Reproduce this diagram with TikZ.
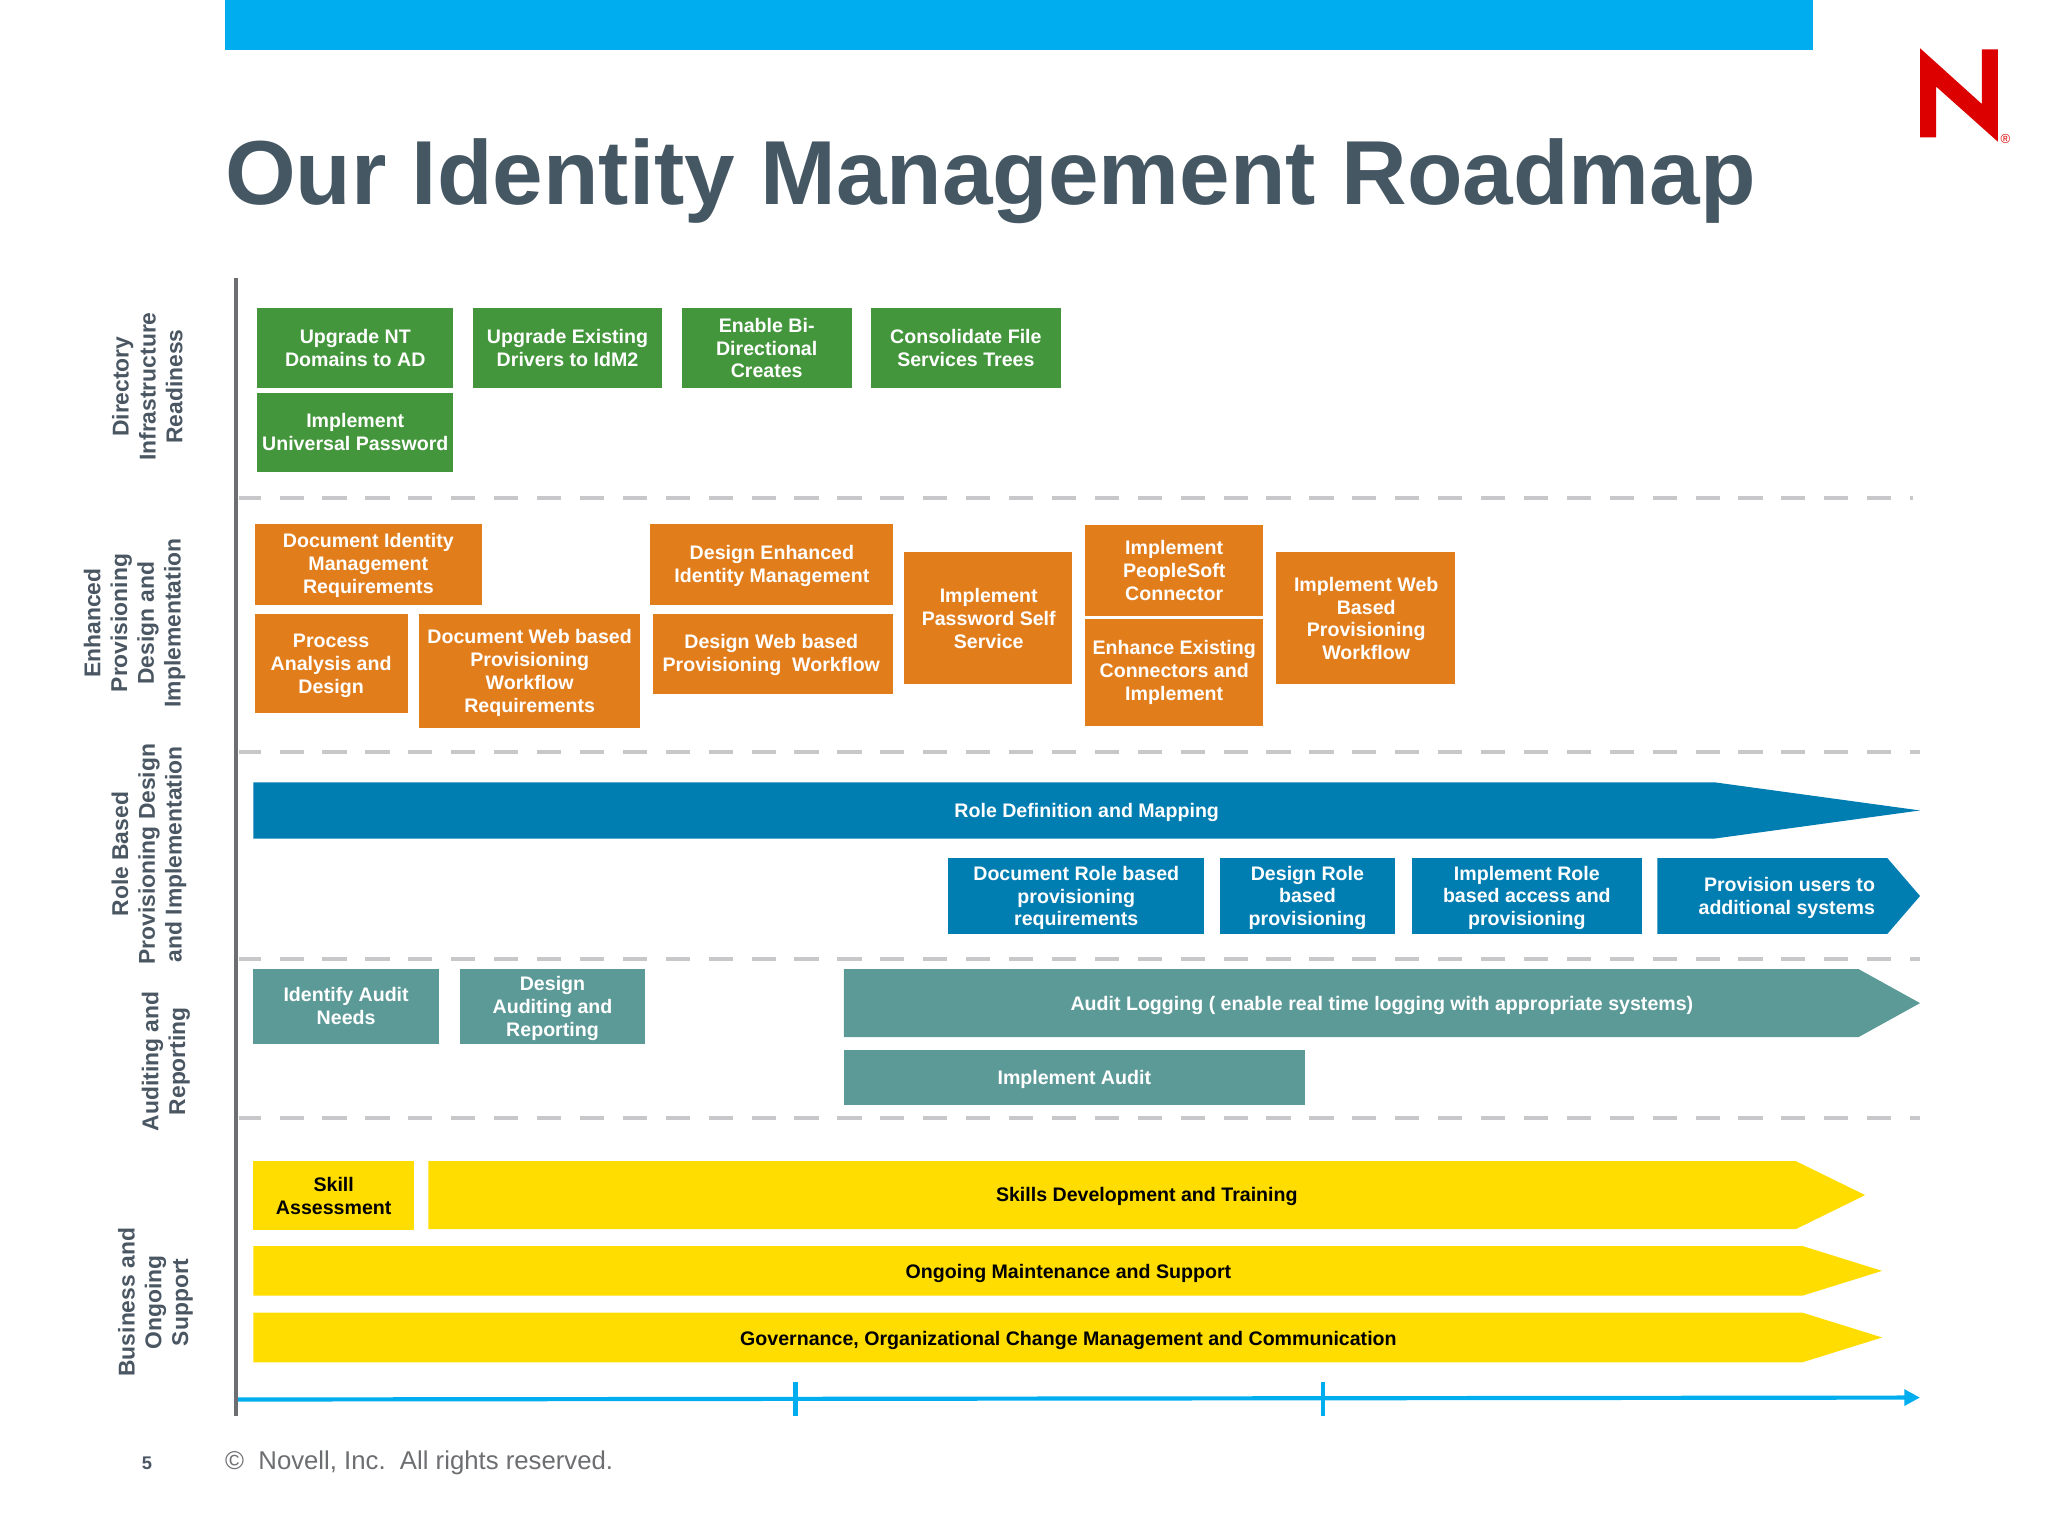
\documentclass[tikz,border=0pt]{standalone}
\usepackage{fontspec}
\setmainfont{Liberation Sans}
\usetikzlibrary{arrows.meta}
\definecolor{topblue}{HTML}{00AEEF}
\definecolor{titlegray}{HTML}{465764}
\definecolor{axisgray}{HTML}{6D6E71}
\definecolor{dashgray}{HTML}{C8C8CB}
\definecolor{boxgreen}{HTML}{43963B}
\definecolor{boxorange}{HTML}{E27D1C}
\definecolor{boxblue}{HTML}{007DB1}
\definecolor{boxteal}{HTML}{5C9A98}
\definecolor{boxyellow}{HTML}{FFDD00}
\definecolor{novellred}{HTML}{DD0000}
\definecolor{labelgray}{HTML}{4A5763}
\tikzset{
  boxbase/.style={rectangle,inner sep=0pt,outer sep=0pt},
  greenbox/.style={boxbase,fill=boxgreen},
  orangebox/.style={boxbase,fill=boxorange},
  bluebox/.style={boxbase,fill=boxblue},
  tealbox/.style={boxbase,fill=boxteal},
  yellowbox/.style={boxbase,fill=boxyellow},
  arrowtext/.style={inner sep=0pt,align=center,font=\fontsize{7.5}{8.75}\selectfont\bfseries,text=white},
  blacktext/.style={arrowtext,text=black},
  sidelabel/.style={rotate=90,inner sep=0pt,align=center,font=\fontsize{8.75}{10.25}\selectfont\bfseries,text=labelgray},
  sepline/.style={draw=dashgray,line width=1.6pt,dash pattern=on 9.25pt off 7.175pt,dash phase=0.9pt},
  axisline/.style={draw=axisgray,line width=1.5pt},
  timeline/.style={draw=topblue,line width=1.6pt},
}
% name, box style, text style, x1,y1,x2,y2, dx,dy, text follows
\newcommand{\bx}[9]{%
  \pgfmathsetmacro\rbw{(#6-#4)*0.5}\pgfmathsetmacro\rbh{(#7-#5)*0.5}%
  \node[#2,minimum width=\rbw pt,minimum height=\rbh pt] (#1) at ({(#4+#6)/2},{(#5+#7)/2}) {};%
  \node[#3] (#1t) at ([xshift=#8*0.5pt,yshift=-#9*0.5pt]#1.center) }
\begin{document}
\begin{tikzpicture}[x=0.5pt,y=-0.5pt]
\useasboundingbox (0,0) rectangle (1568,1176);
\fill[white] (0,0) rectangle (1568,1176);
% top bar and title
\fill[topblue] (172,0) rectangle (1388,38);
\node[anchor=base west,inner sep=0pt,font=\fontsize{34.8}{40}\selectfont\bfseries,text=titlegray] (title) at (172,156.5) {Our Identity Management Roadmap};
% logo
\begin{scope}[shift={(1301.7,0)},x=0.1276pt,y=-0.1276pt]
\fill[novellred] (660,145) -- (845,312) -- (845,148) -- (893,148) -- (893,425) -- (708,260) -- (708,412) -- (660,412) -- cycle;
\node[inner sep=0pt,font=\fontsize{5}{5}\selectfont,text=novellred] (reg) at (916,417) {®};
\end{scope}
% separators
\coordinate (s1a) at (183,381); \coordinate (s1b) at (1465,381);
\coordinate (s2a) at (183,576); \coordinate (s2b) at (1470,576);
\coordinate (s3a) at (183,734); \coordinate (s3b) at (1470,734);
\coordinate (s4a) at (183,856); \coordinate (s4b) at (1470,856);
\draw[sepline] (s1a) -- (s1b);
\draw[sepline] (s2a) -- (s2b);
\draw[sepline] (s3a) -- (s3b);
\draw[sepline] (s4a) -- (s4b);
% axes
\coordinate (axtop) at (181,213); \coordinate (axbot) at (181,1084);
\coordinate (tla) at (181,1071.5); \coordinate (tlb) at (1470,1070);
\coordinate (t1a) at (609,1058); \coordinate (t1b) at (609,1084);
\coordinate (t2a) at (1013,1058); \coordinate (t2b) at (1013,1084);
\draw[timeline,-{Triangle[length=6pt,width=6pt]}] (tla) -- (tlb);
\draw[timeline] (t1a) -- (t1b);
\draw[timeline] (t2a) -- (t2b);
\draw[axisline] (axtop) -- (axbot);
% side labels
\node[sidelabel] (l1) at (112.8,296) {Directory\\Infrastructure\\Readiness};
\node[sidelabel] (l2) at (103,477) {Enhanced\\Provisioning\\Design and\\Implementation};
\node[sidelabel] (l3) at (114,654) {Role Based\\Provisioning Design\\and Implementation};
\node[sidelabel] (l4) at (127,812.5) {Auditing and\\Reporting};
\node[sidelabel] (l5) at (119,997) {Business and\\Ongoing\\Support};
% green
\bx{g1}{greenbox}{arrowtext}{197}{236}{347}{297}{0}{0}{Upgrade NT\\Domains to AD};
\bx{g2}{greenbox}{arrowtext}{362}{236}{507}{297}{0}{0}{Upgrade Existing\\Drivers to IdM2};
\bx{g3}{greenbox}{arrowtext}{522}{236}{652}{297}{0}{0}{Enable Bi-\\Directional\\Creates\ };
\bx{g4}{greenbox}{arrowtext}{667}{236}{812}{297}{0}{0}{Consolidate File\\Services Trees};
\bx{g5}{greenbox}{arrowtext}{197}{301}{347}{361}{0}{0}{Implement\\Universal Password};
% orange
\bx{o1}{orangebox}{arrowtext}{195}{401}{369}{463}{0}{1}{Document Identity\\Management\\Requirements};
\bx{o2}{orangebox}{arrowtext}{195}{470}{312}{546}{0}{2}{Process\\Analysis and\\Design};
\bx{o3}{orangebox}{arrowtext}{321}{470}{490}{557}{0}{1.5}{Document Web based\\Provisioning\\Workflow\\Requirements};
\bx{o4}{orangebox}{arrowtext}{498}{401}{684}{463}{0}{1}{Design Enhanced\\Identity Management};
\bx{o5}{orangebox}{arrowtext}{500}{470}{684}{531}{-1.5}{1}{Design Web based\\Provisioning\ \ Workflow};
\bx{o6}{orangebox}{arrowtext}{692}{423}{821}{524}{0.5}{0}{Implement\\Password Self\\Service};
\bx{o7}{orangebox}{arrowtext}{831}{402}{967}{472}{0}{0}{Implement\\PeopleSoft\\Connector\ };
\bx{o8}{orangebox}{arrowtext}{831}{474}{967}{556}{0}{0}{Enhance Existing\\Connectors and\\Implement};
\bx{o9}{orangebox}{arrowtext}{977}{423}{1114}{524}{0.5}{0}{Implement Web\\Based\\Provisioning\\Workflow};
% blue
\fill[boxblue] (194,599) -- (1313,599) -- (1470,620.5) -- (1313,642) -- (194,642) -- cycle;
\node[arrowtext] (b0) at (832,622) {Role Definition and Mapping};
\bx{b1}{bluebox}{arrowtext}{726}{657}{922}{715}{0}{1.5}{Document Role based\\provisioning\\requirements};
\bx{b2}{bluebox}{arrowtext}{934}{657}{1068}{715}{0}{1.5}{Design Role\\based\\provisioning};
\bx{b3}{bluebox}{arrowtext}{1081}{657}{1257}{715}{0}{1.5}{Implement Role\\based access and\\provisioning};
\fill[boxblue] (1269,657) -- (1445,657) -- (1470,686) -- (1445,715) -- (1269,715) -- cycle;
\node[arrowtext] (b4) at (1368,687.5) {\ Provision users to\\additional systems};
% teal
\bx{t1}{tealbox}{arrowtext}{194}{742}{336}{799}{0}{0}{Identify Audit\\Needs};
\bx{t2}{tealbox}{arrowtext}{352}{742}{494}{799}{0}{1.5}{Design\\Auditing and\\Reporting};
\fill[boxteal] (646,742) -- (1423,742) -- (1470,768) -- (1423,794) -- (646,794) -- cycle;
\node[arrowtext] (t3) at (1058,769.5) {Audit Logging ( enable real time logging with appropriate systems)};
\bx{t4}{tealbox}{arrowtext}{646}{804}{999}{846}{0}{1.5}{Implement Audit};
% yellow
\bx{y1}{yellowbox}{blacktext}{194}{889}{317}{942}{0}{0}{Skill\\Assessment};
\fill[boxyellow] (328,889) -- (1375,889) -- (1428,915) -- (1375,941) -- (328,941) -- cycle;
\node[blacktext] (y2) at (878,916) {Skills Development and Training};
\fill[boxyellow] (194,954) -- (1380,954) -- (1441,973) -- (1380,992) -- (194,992) -- cycle;
\node[blacktext] (y3) at (818,975) {Ongoing Maintenance and Support};
\fill[boxyellow] (194,1005) -- (1380,1005) -- (1441,1024) -- (1380,1043) -- (194,1043) -- cycle;
\node[blacktext] (y4) at (818,1026) {Governance, Organizational Change Management and Communication};
% footer
\node[inner sep=0pt,font=\fontsize{7}{8}\selectfont\bfseries,text=labelgray] (pg) at (112.5,1120) {5};
\node[anchor=base west,inner sep=0pt,font=\fontsize{9.85}{12}\selectfont,text=axisgray] (copy) at (172,1125) {©\ \ Novell, Inc.\ \ All rights reserved.};
\end{tikzpicture}
\end{document}
